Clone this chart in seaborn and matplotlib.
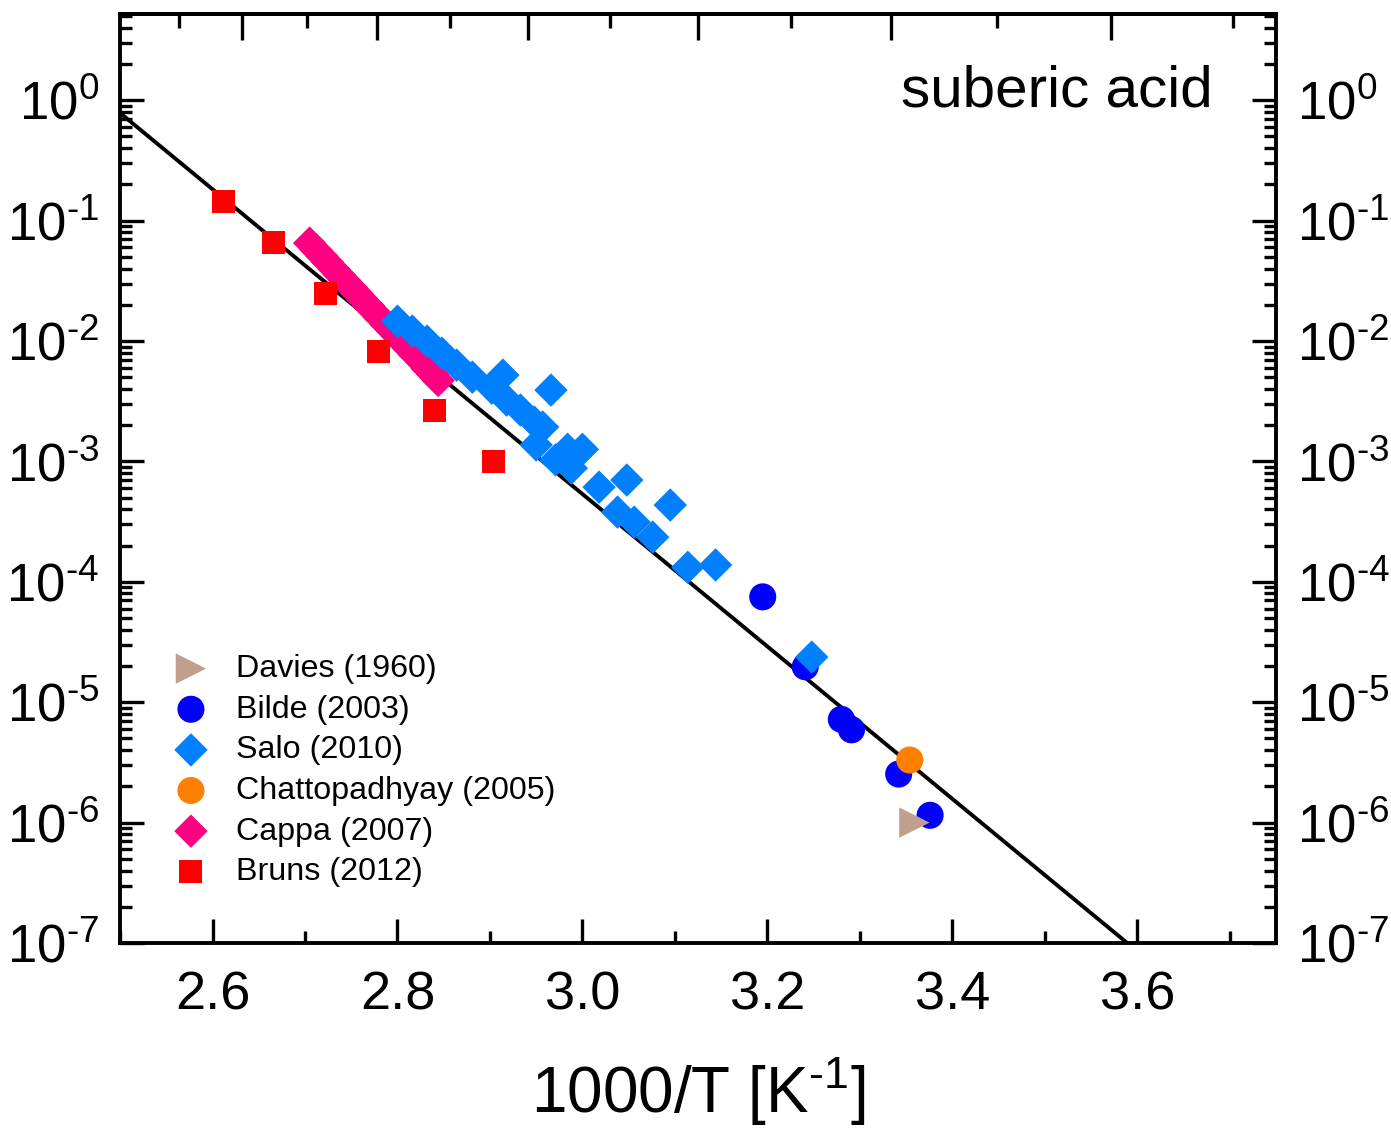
# Vapour pressure of suberic acid vs inverse temperature
import numpy as np
import matplotlib
matplotlib.use("Agg")
import matplotlib.pyplot as plt
import matplotlib.ticker as mticker
import seaborn as sns

# ---- data (x = 1000/T in 1/K, p in Pa) ----
davies_x = [3.359]
davies_p = [1.0e-6]

bilde_x = [3.195, 3.241, 3.280, 3.291, 3.342, 3.376]
bilde_p = [7.5e-5, 1.97e-5, 7.2e-6, 5.9e-6, 2.53e-6, 1.15e-6]

salo_x = [2.800, 2.816, 2.832, 2.848, 2.864, 2.881, 2.914, 2.902, 2.918,
          2.933, 2.966, 2.948, 2.957, 2.950, 2.984, 3.000, 2.971, 2.988,
          3.018, 3.048, 3.095, 3.038, 3.056, 3.076, 3.114, 3.144, 3.248]
salo_p = [1.46e-2, 1.21e-2, 9.97e-3, 7.93e-3, 6.30e-3, 5.01e-3, 5.21e-3,
          4.06e-3, 3.23e-3, 2.67e-3, 3.91e-3, 2.12e-3, 1.93e-3, 1.37e-3,
          1.26e-3, 1.26e-3, 1.03e-3, 8.80e-4, 6.11e-4, 7.00e-4, 4.34e-4,
          3.79e-4, 3.13e-4, 2.35e-4, 1.32e-4, 1.38e-4, 2.37e-5]

chatto_x = [3.354]
chatto_p = [3.31e-6]

cappa_x = [2.705, 2.712, 2.718, 2.724, 2.731, 2.737, 2.743, 2.750, 2.756,
           2.762, 2.769, 2.775, 2.781, 2.788, 2.794, 2.800, 2.807, 2.813,
           2.819, 2.826, 2.832, 2.838, 2.844]
cappa_p = [6.5e-2, 5.7e-2, 5.1e-2, 4.55e-2, 3.98e-2, 3.56e-2, 3.18e-2,
           2.79e-2, 2.49e-2, 2.22e-2, 1.95e-2, 1.74e-2, 1.55e-2, 1.36e-2,
           1.22e-2, 1.09e-2, 9.5e-3, 8.5e-3, 7.6e-3, 6.7e-3, 5.9e-3,
           5.3e-3, 4.7e-3]

bruns_x = [2.612, 2.666, 2.722, 2.779, 2.840, 2.904]
bruns_p = [0.145, 0.0662, 0.0250, 0.00824, 0.00267, 0.00100]

# Clausius-Clapeyron fit: log10(p) = A - B * (1000/T)
fit_A = 15.716
fit_B = 6.329

# temperature ticks on the top axis (K)
T_major = [280, 300, 320, 340, 360, 380]
T_minor = [270, 290, 310, 330, 350, 370, 390]

HYPHEN = "\u2010"  # short dash like the original, mathtext turns "-" into a long minus

sns.set_style("ticks")
plt.rcParams["font.family"] = ["Liberation Sans", "DejaVu Sans"]
plt.rcParams["mathtext.fontset"] = "custom"
plt.rcParams["mathtext.rm"] = "Liberation Sans"
plt.rcParams["mathtext.it"] = "Liberation Sans:italic"
plt.rcParams["mathtext.bf"] = "Liberation Sans:bold"
for key in ["text.color", "axes.labelcolor", "xtick.color", "ytick.color",
            "axes.edgecolor"]:
    plt.rcParams[key] = "black"

fig = plt.figure(figsize=(13.91, 11.28), dpi=100)
ax = fig.add_axes([0.0863, 0.164, 0.831, 0.8236])

xlim = (2.5, 3.75)
ylim = (1e-7, 5.2)

# fit line
fit_x = np.array(xlim)
sns.lineplot(x=fit_x, y=10 ** (fit_A - fit_B * fit_x), color="black",
             linewidth=2.8, ax=ax, zorder=1)

series = [
    ("Cappa (2007)", cappa_x, cappa_p, "D", "#FF0080", 290, 2),
    ("Bilde (2003)", bilde_x, bilde_p, "o", "#0000FF", 380, 2.5),
    ("Salo (2010)", salo_x, salo_p, "D", "#0080FF", 290, 3),
    ("Bruns (2012)", bruns_x, bruns_p, "s", "#FF0000", 275, 4),
    ("Davies (1960)", davies_x, davies_p, ">", "#C19E8E", 480, 5),
    ("Chattopadhyay (2005)", chatto_x, chatto_p, "o", "#FF8000", 380, 5),
]
for label, xs, ps, mk, col, size, z in series:
    sns.scatterplot(x=xs, y=ps, marker=mk, color=col, s=size, linewidth=0,
                    edgecolor="none", label=label, ax=ax, zorder=z)

ax.set_yscale("log")
ax.set_xlim(*xlim)
ax.set_ylim(*ylim)


def pow_label(v, pos):
    e = int(round(np.log10(v)))
    return f"$10^{{{e}}}$".replace("-", HYPHEN)


ax.xaxis.set_major_locator(mticker.MultipleLocator(0.2))
ax.xaxis.set_minor_locator(mticker.MultipleLocator(0.1))
ax.yaxis.set_major_locator(mticker.LogLocator(base=10, numticks=20))
ax.yaxis.set_major_formatter(mticker.FuncFormatter(pow_label))
ax.yaxis.set_minor_locator(mticker.LogLocator(base=10, subs=np.arange(2, 10),
                                              numticks=20))
ax.yaxis.set_minor_formatter(mticker.NullFormatter())

ax.tick_params(axis="both", which="both", direction="in", width=2.4)
ax.tick_params(axis="both", which="major", length=17)
ax.tick_params(axis="both", which="minor", length=8.5)
ax.tick_params(axis="x", which="both", top=False, pad=20, labelsize=39)
ax.tick_params(axis="y", which="both", left=True, right=True,
               labelleft=True, labelright=True, pad=15, labelsize=38)

for sp in ax.spines.values():
    sp.set_linewidth(2.8)
    sp.set_visible(True)

# top axis: temperature in K, unlabelled ticks
top = ax.secondary_xaxis("top", functions=(lambda x: 1000.0 / x,
                                           lambda t: 1000.0 / t))
top.set_xticks(T_major)
top.xaxis.set_minor_locator(mticker.FixedLocator(T_minor))
top.xaxis.set_major_formatter(mticker.NullFormatter())
top.tick_params(axis="x", which="both", direction="in", width=2.4)
top.tick_params(axis="x", which="major", length=19)
top.tick_params(axis="x", which="minor", length=10)
top.spines["top"].set_linewidth(2.8)

ax.set_xlabel(f"1000/T [K$^{{{HYPHEN}1}}$]", fontsize=46, labelpad=25)
ax.set_ylabel("")

ax.text(0.9455, 0.917, "suberic acid", transform=ax.transAxes,
        ha="right", va="center", fontsize=42)

# legend in the reference order
handles, labels = ax.get_legend_handles_labels()
order = ["Davies (1960)", "Bilde (2003)", "Salo (2010)",
         "Chattopadhyay (2005)", "Cappa (2007)", "Bruns (2012)"]
hmap = dict(zip(labels, handles))
ax.legend([hmap[k] for k in order], order, loc="upper left",
          bbox_to_anchor=(0.046, 0.311), frameon=False, fontsize=23.2,
          borderaxespad=0, borderpad=0, handlelength=1.1,
          handletextpad=0.85, labelspacing=0.33, scatterpoints=1)

fig.savefig("out.png", dpi=100)
